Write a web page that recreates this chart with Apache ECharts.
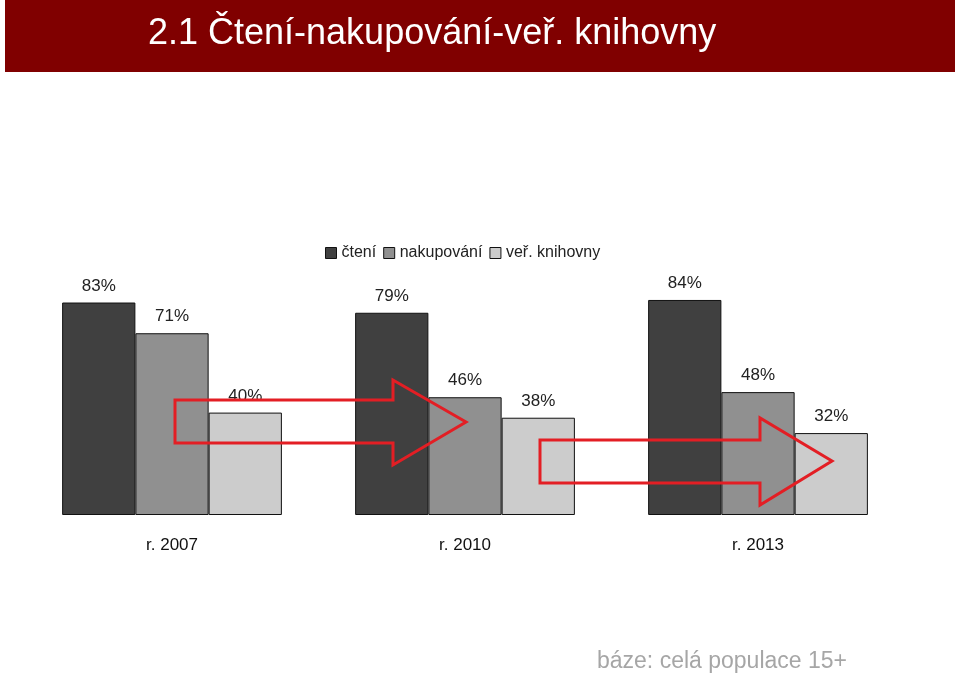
<!DOCTYPE html>
<html><head><meta charset="utf-8">
<script src="https://cdn.jsdelivr.net/npm/echarts@6/dist/echarts.min.js"></script>
<style>body{margin:0}#c{width:960px;height:678px}</style></head>
<body><div id="c"></div>
<script>
const categories = ['r. 2007', 'r. 2010', 'r. 2013'];
const cteni = [83, 79, 84];
const nakupovani = [71, 46, 48];
const knihovny = [40, 38, 32];
const seriesNames = ['čtení', 'nakupování', 'veř. knihovny'];
const colors = ['#404040', '#909090', '#cccccc'];

const chart = echarts.init(document.getElementById('c'));
const font = 'Liberation Sans, Arial, sans-serif';
function arrow(pts) {
  return { type: 'polygon', shape: { points: pts }, style: { fill: 'none', stroke: '#e31e24', lineWidth: 3 }, z: 10 };
}
const mk = (name, data, i) => ({
  name, type: 'bar', data, barGap: '0%', barCategoryGap: '25%',
  itemStyle: { color: colors[i], borderColor: '#111', borderWidth: 1 },
  label: { show: true, position: 'top', distance: 8, formatter: '{c}%', fontFamily: font, fontSize: 17, color: '#222' }
});
chart.setOption({
  animation: false,
  graphic: [
    { type: 'rect', shape: { x: 5, y: 0, width: 950, height: 72 }, style: { fill: '#800000' } },
    { type: 'text', left: 148, top: 16, style: { text: '2.1 Čtení-nakupování-veř. knihovny', fill: '#fff', font: '36px Liberation Sans, Arial, sans-serif' } },
    arrow([[175,400],[393,400],[393,380],[466,422],[393,465],[393,443],[175,443]]),
    arrow([[540,440],[760,440],[760,418],[832,461],[760,505],[760,483],[540,483]]),
    { type: 'text', left: 597, top: 650, style: { text: 'báze: celá populace 15+', fill: '#a6a6a6', font: '23px Liberation Sans, Arial, sans-serif' } }
  ],
  legend: {
    top: 240, left: 320, itemWidth: 11, itemHeight: 11, itemGap: 7,
    textStyle: { fontFamily: font, fontSize: 16, color: '#222' },
    data: seriesNames.map((n, i) => ({ name: n, icon: 'rect', itemStyle: { borderColor: '#111', borderWidth: 1 } }))
  },
  grid: { left: 25.5, right: 55.5, top: 259, bottom: 163 },
  xAxis: {
    type: 'category', data: categories,
    axisLine: { show: false }, axisTick: { show: false },
    axisLabel: { fontFamily: font, fontSize: 17, color: '#111', margin: 22 }
  },
  yAxis: { type: 'value', min: 0, max: 100, show: false, splitLine: { show: false } },
  series: [mk(seriesNames[0], cteni, 0), mk(seriesNames[1], nakupovani, 1), mk(seriesNames[2], knihovny, 2)]
});
</script></body></html>
